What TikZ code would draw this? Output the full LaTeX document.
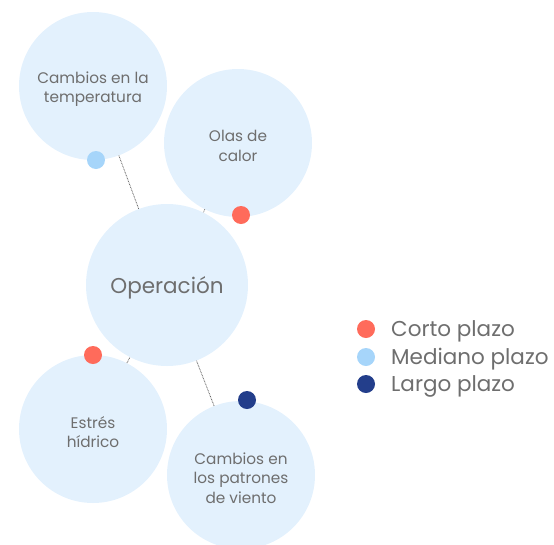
\documentclass[tikz,border=0pt]{standalone}
\usepackage{fontspec}
\setmainfont{Poppins}
\definecolor{bubble}{HTML}{E3F1FD}
\definecolor{coral}{HTML}{FF6B5B}
\definecolor{skyb}{HTML}{A6D5FA}
\definecolor{navy}{HTML}{233E8B}
\definecolor{txt}{HTML}{6E6E6E}
\definecolor{conn}{HTML}{666666}
\tikzset{
  bub/.style={circle, fill=bubble, minimum size=#1, inner sep=0pt},
  btxt/.style={align=center, text=txt, inner sep=0pt, font=\fontsize{15.3}{19.5}\selectfont},
  dot/.style={circle, fill=#1, minimum size=18pt, inner sep=0pt},
  conn/.style={draw=conn, dash pattern=on 0.8pt off 0.8pt, line width=0.8pt},
  leg/.style={anchor=west, text=txt, font=\fontsize{21.5}{24}\selectfont, inner sep=0pt}
}
\begin{document}
\begin{tikzpicture}[x=1pt,y=-1pt]
\useasboundingbox (0,0) rectangle (554,544);
\clip (0,0) rectangle (554,544);
\node[bub=148pt] (temp) at (93,86) {};
\node[bub=148pt] (olas) at (238,143) {};
\node[bub=162pt] (op) at (167,285) {};
\node[bub=148pt] (estres) at (93,429) {};
\node[bub=148pt] (viento) at (241,475) {};
\node[btxt] (tempT) at ([yshift=-3pt]temp.center) {Cambios en la\\temperatura};
\node[btxt] (olasT) at ([yshift=-3pt]olas.center) {Olas de\\calor};
\node[btxt, font=\fontsize{21.5}{24}\selectfont] (opT) at ([yshift=-3pt]op.center) {Operación};
\node[btxt] (estresT) at ([yshift=-3pt]estres.center) {Estrés\\hídrico};
\node[btxt] (vientoT) at ([yshift=-3pt]viento.center) {Cambios en\\los patrones\\de viento};
\draw[conn] (temp) -- (op);
\draw[conn] (olas) -- (op);
\draw[conn] (estres) -- (op);
\draw[conn] (viento) -- (op);
\node[dot=skyb] (d1) at (96,160) {};
\node[dot=coral] (d2) at (241,215) {};
\node[dot=coral] (d3) at (93,355) {};
\node[dot=navy] (d4) at (247,400) {};
\node[dot=coral] (l1) at (366,329) {};
\node[dot=skyb] (l2) at (366,357) {};
\node[dot=navy] (l3) at (366,384) {};
\node[leg] (t1) at (391,331) {Corto plazo};
\node[leg] (t2) at (391,359) {Mediano plazo};
\node[leg] (t3) at (391,386) {Largo plazo};
\end{tikzpicture}
\end{document}
